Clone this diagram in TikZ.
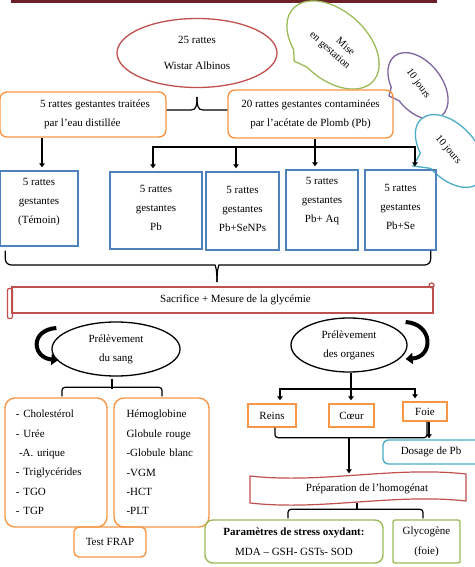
\documentclass[tikz,border=0pt]{standalone}
\usepackage{fontspec}
\setmainfont{Liberation Serif}
\usepackage{tikz}
\usetikzlibrary{calc}
\usetikzlibrary{arrows.meta}
\usetikzlibrary{shapes.geometric}
\definecolor{orc}{HTML}{F79646}
\definecolor{bluec}{HTML}{4F81BD}
\definecolor{redc}{HTML}{C0504D}
\definecolor{greenc}{HTML}{9BBB59}
\definecolor{purplec}{HTML}{8064A2}
\definecolor{tealc}{HTML}{4BACC6}
\definecolor{barc}{HTML}{6B1F26}
\tikzset{
    txt/.style={font=\fontsize{11}{19}\selectfont, align=center, inner sep=2pt},
    obox/.style={txt, draw=orc, line width=1.4pt, rounded corners=7pt},
    sbox/.style={txt, draw=orc, line width=1.4pt},
    bbox/.style={txt, draw=bluec, line width=1.4pt},
    gbox/.style={txt, draw=greenc, line width=1.4pt},
    tbox/.style={txt, draw=tealc, line width=1.4pt, rounded corners=5pt},
    ell/.style={txt, ellipse, draw, line width=1.3pt},
    bubble/.style={draw=#1, line width=1.3pt, fill=white},
    bubtxt/.style={align=center, inner sep=1pt, font=\fontsize{10.5}{13}\selectfont},
    lnk/.style={line width=1.8pt},
    arr/.style={line width=1.8pt, -{Triangle[length=4pt,width=5.5pt]}, shorten >=3pt},
    brk/.style={line width=1.2pt},
    curvearr/.style={line width=4pt, -{Triangle[length=7pt,width=11pt]}}
}

\begin{document}
\begin{tikzpicture}[x=1pt,y=-1pt]
\useasboundingbox (0,0) rectangle (474,567);
\fill[barc] (11,0) rectangle (437,3.5);
\node[ell, draw=redc, minimum width=160, minimum height=69] (rats) at (197,53) {25 rattes\\[7pt]Wistar Albinos};
\begin{scope}[shift={(333,45)}, rotate=-42]
    \draw[bubble=greenc] (265:54pt and 34pt) arc[start angle=265, end angle=601, x radius=54pt, y radius=34pt] -- (-18pt,-38pt) -- cycle;
\end{scope}
\begin{scope}[shift={(418,86)}, rotate=-52]
    \draw[bubble=purplec] (270:38pt and 24pt) arc[start angle=270, end angle=606, x radius=38pt, y radius=24pt] -- (-10pt,-29pt) -- cycle;
\end{scope}
\begin{scope}[shift={(450,151)}, rotate=-48]
    \draw[bubble=tealc] (270:43pt and 26pt) arc[start angle=270, end angle=605, x radius=43pt, y radius=26pt] -- (-13.6pt,-37.5pt) -- cycle;
\end{scope}
\node[bubtxt, rotate=-42] (mise) at (334,46) {\hspace*{18pt}Mise\\en gestation};
\node[bubtxt, rotate=-54] (jours1) at (418,84) {10 jours};
\node[bubtxt, rotate=-50] (jours2) at (448,150) {10 jours};
\node[obox, minimum width=166, minimum height=45, align=left] (eau) at (83,114.5) {\hspace*{24pt}5 rattes gestantes traitées\\\hspace*{28pt}par l'eau distillée};
\node[obox, minimum width=165, minimum height=48] (plomb) at (310.5,114) {20 rattes gestantes contaminées\\par l'acétate de Plomb (Pb)};
\coordinate (top) at (197,97);
\draw[brk] ($(eau.east)+(0,-4.5)$) -- (191,110) .. controls (196,110) and (197,106) .. (top);
\draw[brk] ($(plomb.west)+(0,-4)$) -- (203,110) .. controls (198,110) and (197,106) .. (top);
\foreach \p/\x/\y/\w/\h/\dd/\lab in {
    temoin/39/208.5/78/75/15.4/{5 rattes\\gestantes\\(Témoin)},
    pb/156/210.5/92/77/5.2/{5 rattes\\gestantes\\Pb},
    senps/242.5/211/73/78/4.2/{5 rattes\\gestantes\\Pb+SeNPs},
    aq/322/210/72/80/20.4/{5 rattes\\gestantes\\Pb+ Aq},
    se/400.5/210/71/80/6.2/{5 rattes\\gestantes\\Pb+Se}}{
    \node[bbox, minimum width=\w, minimum height=\h, text depth=\dd pt] (\p) at (\x,\y) {\lab};
}
\draw[arr] ($(eau.south)+(-41,0)$) -- (temoin.north -| 42,0);
\coordinate (hub) at ($(plomb.south)+(4.5,8)$);
\draw[lnk] ($(plomb.south)+(4.5,0)$) -- (hub);
\draw[lnk] (hub -| 152,0) -- (hub -| 416,0);
\foreach \b/\x in {pb/153,senps/236,aq/315,se/415}{
    \draw[arr] (hub -| \x,0) -- (\b.north -| \x,0);
}
\coordinate (bot) at (217,282);
\draw[brk, rounded corners=6pt] ($(temoin.south west)+(6,4)$) |- (209,265) .. controls (215,265) and (217,268) .. (bot);
\draw[brk, rounded corners=6pt] ($(se.south east)+(-6,0)$) |- (225,265) .. controls (219,265) and (217,268) .. (bot);
\node[txt, draw=redc, line width=1.2pt, minimum width=421, minimum height=26] (sacrif) at (222.5,300) {\hspace*{26pt}Sacrifice + Mesure de la glycémie};
\draw[redc, line width=1.2pt, rounded corners=2pt] ($(sacrif.north west)+(-4,2)$) rectangle ($(sacrif.south west)+(1,5)$);
\draw[redc, line width=1.2pt] ($(sacrif.north east)+(-2,-1)$) circle (2.5);
\node[ell, minimum width=128, minimum height=54] (sang) at (116,349) {Prélèvement\\du sang};
\node[ell, minimum width=116, minimum height=54] (organes) at (349,345) {Prélèvement\\des organes};
\draw[curvearr] ($(sang.west)+(5,-21)$) .. controls +(-27,2) and +(-26,-2) .. ($(sang.west)+(7,11)$);
\draw[curvearr] ($(organes.east)+(-2,-23)$) .. controls +(28,2) and +(28,-2) .. ($(organes.east)+(-2,14)$);
\node[obox, rounded corners=10pt, minimum width=102, minimum height=129, text width=80, align=left, font=\fontsize{11}{19.4}\selectfont] (bio) at (56,462.5) {- Cholestérol\\- Urée\\\hspace*{3pt}-A. urique\\- Triglycérides\\- TGO\\- TGP};
\node[obox, rounded corners=10pt, minimum width=95, minimum height=129, text width=70, align=left, font=\fontsize{11}{19.4}\selectfont] (hemo) at (161.5,462.5) {Hémoglobine\\Globule rouge\\-Globule blanc\\-VGM\\-HCT\\-PLT};
\draw[brk, rounded corners=3pt] ($(bio.north)+(6,-1)$) |- ($(hemo.north)+(0.5,-10)$) -- ($(hemo.north)+(0.5,-1)$);
\draw[brk] ($(sang.south)+(-4,2)$) -- ++(0,10);
\node[obox, rounded corners=5pt, minimum width=72, minimum height=30] (frap) at (110,542) {Test FRAP};
\node[sbox, minimum width=48, minimum height=23] (reins) at (272,415.5) {Reins};
\node[sbox, minimum width=45, minimum height=23] (coeur) at (351.5,415.5) {Cœur};
\node[sbox, minimum width=44, minimum height=19] (foie) at (425,411.5) {Foie};
\node[tbox, minimum width=110, minimum height=24] (dosage) at (438,452) {Dosage de Pb\hspace*{14pt}};
\coordinate (hub2) at ($(organes.south)+(2,16)$);
\draw[lnk] ($(organes.south)+(2,0)$) -- (hub2);
\draw[lnk] (hub2 -| 279,0) -- (hub2 -| 416,0);
\foreach \b/\x in {reins/280,coeur/351,foie/415}{
    \draw[arr] (hub2 -| \x,0) -- (\b.north -| \x,0);
}
\draw[brk, rounded corners=3pt] ($(reins.south)+(3,0)$) |- ($(foie.south)+(2,16)$) -- ($(foie.south)+(2,0)$);
\node[txt, minimum width=216, minimum height=28] (prep) at (358,488.5) {\hspace*{18pt}Préparation de l'homogénat};
\draw[redc, line width=1.2pt] (250,476) .. controls (322,484) and (394,466) .. (466,474) -- (466,501) .. controls (394,493) and (322,511) .. (250,503) -- cycle;
\coordinate (mid) at ($(coeur.south)+(-2.5,10)$);
\draw[arr, shorten >=1pt] (mid) -- (prep.north -| mid);
\draw[arr, shorten >=1pt] ($(foie.south)+(4,0)$) -- (dosage.north -| 429,0);
\node[gbox, rounded corners=8pt, minimum width=178, minimum height=43, font=\fontsize{11}{20}\selectfont] (param) at (294,541.5) {\textbf{Paramètres de stress oxydant:}\\MDA -- GSH- GSTs- SOD};
\node[gbox, rounded corners=2pt, minimum width=67, minimum height=43, font=\fontsize{11}{20}\selectfont] (glyco) at (426.5,541.5) {Glycogène\\(foie)};
\draw[brk, rounded corners=3pt] ($(param.north)+(-6,-1)$) |- ($(glyco.north)+(-3.5,-10)$) -- ($(glyco.north)+(-3.5,-1)$);
\draw[brk] ($(prep.south)+(-1,0)$) -- ++(0,7);
\end{tikzpicture}
\end{document}
